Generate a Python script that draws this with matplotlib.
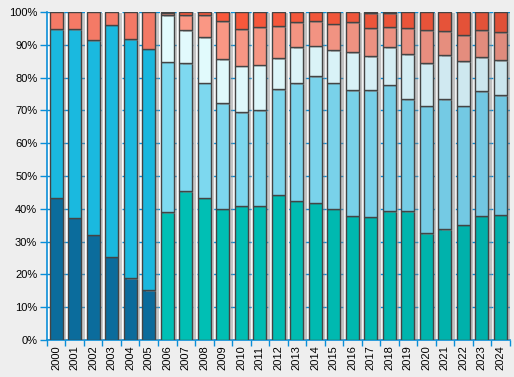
import numpy as np
import matplotlib.pyplot as plt
import matplotlib.patheffects as pe
from matplotlib.colors import to_rgb

plt.rcParams['font.family'] = ['Liberation Sans', 'DejaVu Sans']

years = [str(y) for y in range(2000, 2025)]

# cumulative tops (%), bottom to top
# 2000-2005 series
dark_top = [43.3, 37.2, 32.0, 25.3, 18.8, 15.2]
sky_top = [94.7, 94.7, 91.4, 96.2, 91.7, 88.8]
# 2006-2024 series
teal_top = [39.0, 45.4, 43.3, 40.0, 40.9, 40.9, 44.2, 42.4, 41.8, 40.0,
            37.8, 37.5, 39.3, 39.3, 32.6, 33.8, 35.1, 37.8, 38.1]
lblue_top = [84.8, 84.4, 78.5, 72.2, 69.4, 70.0, 76.4, 78.3, 80.4, 78.5,
             76.1, 76.1, 77.9, 73.4, 71.5, 73.4, 71.5, 75.8, 74.6]
cyan_top = [99.0, 94.4, 92.3, 85.6, 83.7, 84.0, 85.9, 89.2, 89.8, 88.3,
            87.7, 86.5, 89.2, 87.1, 84.4, 86.8, 85.0, 86.2, 85.3]
salmon_top = [99.7, 99.0, 99.0, 97.2, 94.7, 95.3, 95.6, 96.9, 97.2, 96.5,
              96.9, 95.0, 95.3, 95.0, 94.4, 94.1, 92.9, 94.4, 93.8]
red_top = [100, 100, 100, 100, 100, 100, 100, 100, 100, 100,
           100, 99.6, 99.6, 100, 100, 100, 100, 100, 100]

n_old = len(dark_top)
n = len(years)

# build segments: (bottom, height, color, bar index)
segs = []
for i in range(n_old):
    segs.append((0, dark_top[i], '#0b6c9c', i))
    segs.append((dark_top[i], sky_top[i] - dark_top[i], '#1ab9df', i))
    segs.append((sky_top[i], 100 - sky_top[i], '#f57a66', i))
for j in range(len(teal_top)):
    i = n_old + j
    segs.append((0, teal_top[j], '#00c2b6', i))
    segs.append((teal_top[j], lblue_top[j] - teal_top[j], '#80dcf2', i))
    segs.append((lblue_top[j], cyan_top[j] - lblue_top[j], '#e6feff', i))
    segs.append((cyan_top[j], salmon_top[j] - cyan_top[j], '#ff9a86', i))
    segs.append((salmon_top[j], red_top[j] - salmon_top[j], '#ff5a3c', i))
    if red_top[j] < 100:
        segs.append((red_top[j], 100 - red_top[j], '#8a1c4c', i))

fig = plt.figure(figsize=(5.14, 3.77), dpi=100, facecolor='#eeeeee')
ax = fig.add_axes([0.0914, 0.098, 0.9, 0.870])

# background gradient of the plot area
grad = np.linspace(1.0, 0.93, 256).reshape(1, -1)
ax.imshow(grad, extent=(-0.5, n - 0.5, 0, 100), aspect='auto', cmap='gray',
          vmin=0, vmax=1, zorder=0)

for b, h, c, i in segs:
    t = (i / (n - 1)) ** 1.6
    shade = 1.0 - t * np.array([0.12, 0.10, 0.07])
    col = tuple(np.clip(np.array(to_rgb(c)) * shade, 0, 1))
    ax.bar(i, h, bottom=b, width=0.72, color=col, edgecolor='#444444',
           linewidth=1.0, zorder=3,
           path_effects=[pe.SimplePatchShadow(offset=(2.5, -1), shadow_rgbFace='#888888', alpha=0.45),
                         pe.Normal()])

ax.set_xlim(-0.5, n - 0.5)
ax.set_ylim(0, 100)
ax.set_xticks(range(n))
ax.set_xticklabels(years, rotation=90, fontsize=8)
ax.set_xticks(np.arange(-0.5, n, 1), minor=True)
ax.tick_params(axis='x', which='major', length=0, pad=4)
ax.tick_params(axis='x', which='minor', length=4, color='#0a8ed8', width=1)
ax.set_yticks(range(0, 101, 10))
ax.set_yticklabels([f'{v}%' for v in range(0, 101, 10)], fontsize=8)
ax.tick_params(axis='y', length=5, color='#0a8ed8', width=1, pad=2)
ax.yaxis.grid(True, color='#0a8ed8', linestyle=(0, (3, 3)), linewidth=1, zorder=1)
ax.set_axisbelow(True)

for s in ['top', 'right']:
    ax.spines[s].set_visible(False)
for s in ['left', 'bottom']:
    ax.spines[s].set_color('#0a8ed8')
    ax.spines[s].set_linewidth(1.2)

fig.savefig('out.png', dpi=100, facecolor=fig.get_facecolor())
